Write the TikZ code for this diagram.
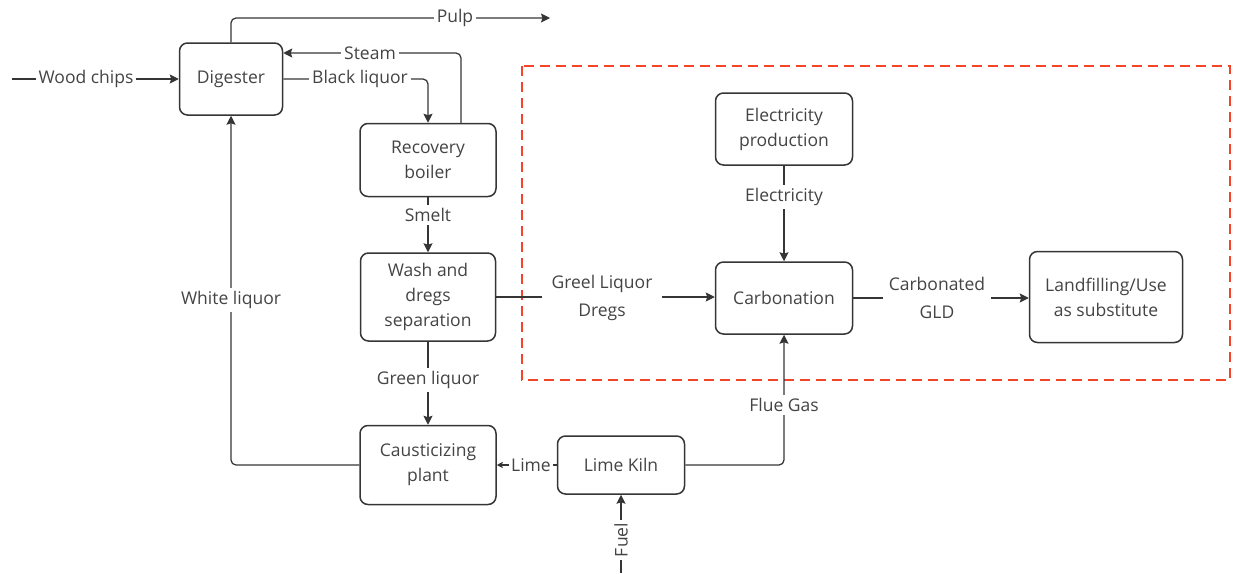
\documentclass[tikz,border=0pt]{standalone}
\usepackage{fontspec}
\setmainfont{Open Sans}
\usetikzlibrary{arrows.meta,positioning}
\definecolor{linegray}{HTML}{353535}
\definecolor{textgray}{HTML}{444444}
\definecolor{dashred}{HTML}{F2452A}

\tikzset{
  unit/.style={draw=linegray, line width=1.5pt, rounded corners=8pt, fill=white,
    align=center, text=textgray, inner sep=2pt, font=\fontsize{17.5}{25}\selectfont},
  flow/.style={draw=linegray, line width=1.25pt, rounded corners=5pt,
    -{Stealth[length=9pt,width=9pt,inset=1.5pt]}},
  flowlbl/.style={fill=white, text=textgray, align=center, inner sep=3pt,
    font=\fontsize{17.5}{28}\selectfont},
  dashbox/.style={draw=dashred, line width=2.6pt, dash pattern=on 10pt off 6pt}
}

\begin{document}
\begin{tikzpicture}[x=1pt,y=-1pt]
      %\draw[help lines] (0,0) grid[step=50] (1237,573);
      \useasboundingbox (0,0) rectangle (1237,573);

      % scope of the study
      \draw[dashbox] (522,66) rectangle (1230,380);

      \node[unit, minimum width=103pt, minimum height=72pt] (dig) at (231,79) {Digester};
      \node[unit, minimum width=136pt, minimum height=73pt] (rb) at (428,160) {Recovery\\boiler};
      \node[unit, minimum width=135pt, minimum height=88pt] (wd) at (428,297) {Wash and\\dregs\\separation};
      \node[unit, minimum width=136pt, minimum height=79pt] (cp) at (428,465) {Causticizing\\plant};
      \node[unit, minimum width=127pt, minimum height=58pt] (lk) at (621,465) {Lime Kiln};
      \node[unit, minimum width=137pt, minimum height=72pt] (ep) at (784,129) {Electricity\\production};
      \node[unit, minimum width=137pt, minimum height=72pt] (carb) at (784,298) {Carbonation};
      \node[unit, minimum width=153pt, minimum height=91pt] (land) at (1106,297) {Landfilling/Use\\as substitute};

      \coordinate (chips-in) at (12,79);
      \coordinate (pulp-out) at (550,18);
      \coordinate (fuel-in) at (621,573);

      % streams
      \draw[flow] (chips-in) -- (dig.west);
      \draw[flow] (dig.north) |- (pulp-out);
      \draw[flow] ([xshift=33pt]rb.north) |- ([yshift=26pt]dig.east);
      \draw[flow] (dig.east) -| (rb.north);
      \draw[flow] (rb.south) -- (wd.north);
      \draw[flow] (wd.south) -- (cp.north);
      \draw[flow] (cp.west) -| (dig.south);
      \draw[flow, -{Stealth[length=6pt,width=6pt,inset=1pt]}] (lk.west) -- (cp.east);
      \draw[flow] (fuel-in) -- (lk.south);
      \draw[flow] (lk.east) -| (carb.south);
      \draw[flow] (wd.east) -- (carb.west |- wd.east);
      \draw[flow] (ep.south) -- (carb.north);
      \draw[flow] (carb.east) -- (land.west |- carb.east);

      % stream labels
      \node[flowlbl] (l-chips) at (86,79) {Wood chips};
      \node[flowlbl] (l-pulp) at (455,18) {Pulp};
      \node[flowlbl] (l-steam) at (370,53) {Steam};
      \node[flowlbl] (l-black) at (360,79) {Black liquor};
      \node[flowlbl] (l-smelt) at (428,215) {Smelt};
      \node[flowlbl] (l-green) at (428,380) {Green liquor};
      \node[flowlbl] (l-white) at (231,300) {White liquor};
      \node[flowlbl, inner sep=2pt] (l-lime) at (531,465) {Lime};
      \node[flowlbl, rotate=90] (l-fuel) at (621,540) {Fuel};
      \node[flowlbl] (l-flue) at (784,405) {Flue Gas};
      \node[flowlbl, inner xsep=10pt] (l-dregs) at (602,298) {Greel Liquor\\Dregs};
      \node[flowlbl] (l-elec) at (784,197) {Electricity};
      \node[flowlbl, inner xsep=6pt] (l-gld) at (937,298) {Carbonated\\GLD};
\end{tikzpicture}
\end{document}
